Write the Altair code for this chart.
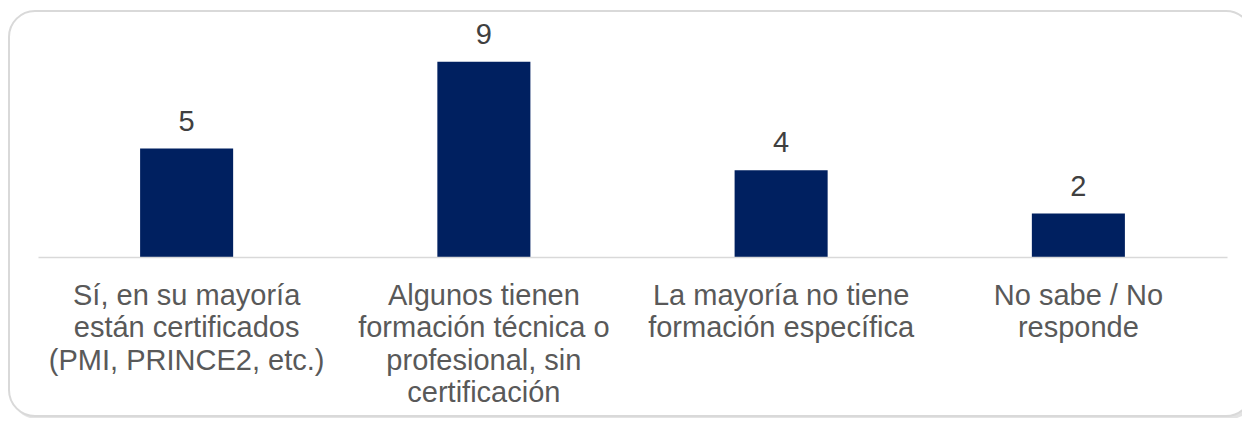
import altair as alt
import pandas as pd

categories = [
    "Sí, en su mayoría|están certificados|(PMI, PRINCE2, etc.)",
    "Algunos tienen|formación técnica o|profesional, sin|certificación",
    "La mayoría no tiene|formación específica",
    "No sabe / No|responde",
]
values = [5, 9, 4, 2]

df = pd.DataFrame({"cat": categories, "val": values})
frame_df = pd.DataFrame({"k": [0]})

FONT = "Liberation Sans"
W = 1189
H = 217

shadow = alt.Chart(frame_df).mark_rect(
    fill="#d0d0d0", cornerRadius=26, opacity=0.6
).encode(x=alt.value(-27), x2=alt.value(1218), y=alt.value(-27), y2=alt.value(379))

frame = alt.Chart(frame_df).mark_rect(
    fill="white", stroke="#d9d9d9", strokeWidth=2, cornerRadius=26
).encode(x=alt.value(-29), x2=alt.value(1214), y=alt.value(-29), y2=alt.value(376))

x_enc = alt.X(
    "cat:N",
    sort=categories,
    scale=alt.Scale(paddingInner=0.687, paddingOuter=0.3435),
    axis=alt.Axis(
        title=None,
        labelExpr="split(datum.label, '|')",
        labelAngle=0,
        labelFont=FONT,
        labelFontSize=29,
        labelColor="#595959",
        labelLineHeight=32.5,
        labelPadding=24,
        ticks=False,
        domainColor="#d9d9d9",
        domainWidth=1.5,
        labelLimit=400,
        zindex=1,
    ),
)
y_enc = alt.Y("val:Q", scale=alt.Scale(domain=[0, 10]), axis=None)

bars = alt.Chart(df).mark_bar(color="#002060").encode(x=x_enc, y=y_enc)
texts = alt.Chart(df).mark_text(
    font=FONT, fontSize=29, color="#404040", baseline="alphabetic", dy=-18
).encode(x=alt.X("cat:N", sort=categories), y=y_enc, text="val:Q")

chart = alt.layer(shadow, frame, bars, texts).properties(
    width=W,
    height=H,
    padding={"left": 30, "top": 32, "right": 15, "bottom": 161},
    autosize=alt.AutoSizeParams(type="none"),
).configure_view(stroke=None).configure(background="white")

chart.save("out.html", embed_options={"renderer": "svg", "actions": False})
